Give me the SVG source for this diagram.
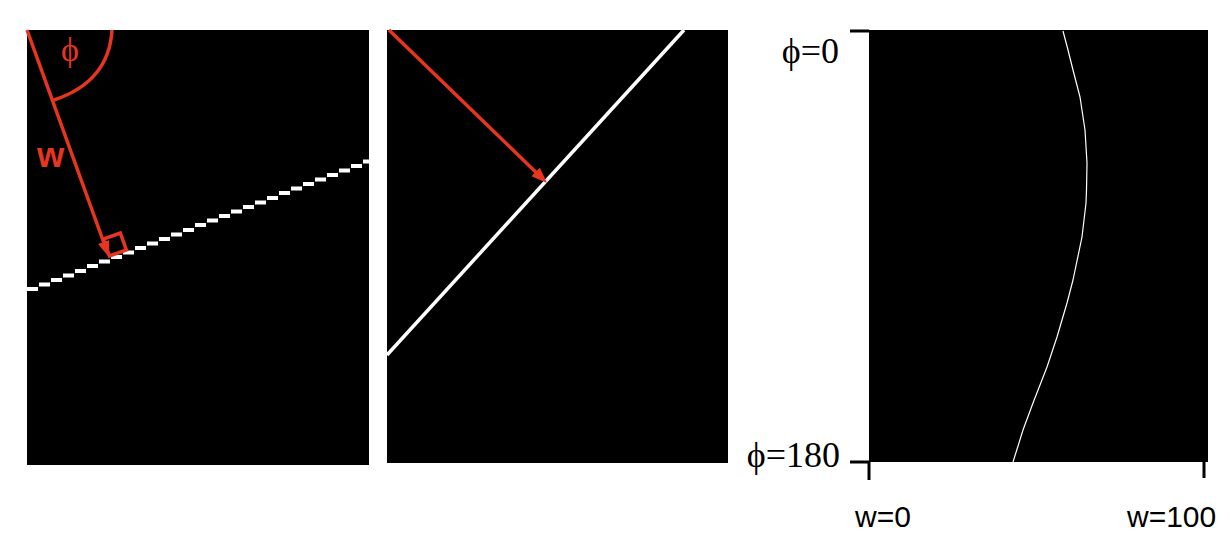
<svg xmlns="http://www.w3.org/2000/svg" width="1230" height="544" viewBox="0 0 1230 544">
<style>
.panel{fill:#000}
.red{stroke:#e8351f;fill:none;stroke-width:3.5}
.white{stroke:#fff;fill:none}
.tick{stroke:#000;stroke-width:3;fill:none}
.serif{font-family:"Liberation Serif","Times New Roman",serif;fill:#000}
.sans{font-family:"Liberation Sans",Arial,sans-serif;fill:#000}
</style>
<defs>
<marker id="ah" viewBox="0 0 16 12" refX="8" refY="6" markerWidth="16" markerHeight="12" markerUnits="userSpaceOnUse" orient="auto">
<path d="M0,0 L16,6 L0,12 Z" fill="#e8351f"/>
</marker>
</defs>
<rect width="1230" height="544" fill="#fff"/>

<g id="panel1">
<rect class="panel" x="27" y="30" width="342" height="435"/>
<path class="white" stroke-width="4" d="M27 289h11M39 284.5h11M51 280h11M63 275.5h11M75 271h11M87 266h11M99 261.5h11M111 257h11M123 252.5h11M135 248h11M147 243.5h11M159 239h11M171 234.5h11M183 230h11M195 225h11M207 220.5h11M219 216h11M231 211.5h11M243 207h11M255 202.5h11M267 198h11M279 193h11M291 188.5h11M303 184h11M315 179.5h11M327 175h11M339 170.5h11M351 166h11M363 161.5h6"/>
<line class="red" x1="27" y1="30" x2="106.3" y2="249.5" marker-end="url(#ah)"/>
<path class="red" stroke-width="3" d="M54,100 C90,88 110,65 112,30"/>
<path class="red" stroke-width="2" d="M109.5,256 L103.4,239.1 L120.3,233 L126.4,249.9 Z"/>
<text x="70" y="61" text-anchor="middle" font-family="Liberation Serif, serif" font-size="34" fill="#e8351f">ϕ</text>
<text x="37" y="167" font-family="Liberation Sans, Arial, sans-serif" font-size="35" font-weight="bold" fill="#e8351f">w</text>
</g>

<g id="panel2">
<rect class="panel" x="387" y="30" width="341" height="433"/>
<line class="white" stroke-width="3.5" x1="387" y1="355" x2="684" y2="30"/>
<line class="red" x1="389" y1="30" x2="541.3" y2="177.4" marker-end="url(#ah)"/>
</g>

<g id="panel3">
<rect class="panel" x="869" y="30" width="339" height="432"/>
<path class="white" stroke="#d0d0d0" stroke-width="1.2" stroke-linejoin="round" d="M1063,31 L1068,50 L1073,70 L1080,97 L1085,130 L1087,163 L1086.5,190 L1086,203 L1082,237 L1073,280 L1067,303 L1057,337 L1047,367 L1033,403 L1023,430 L1013,462"/>
<path class="tick" d="M850,31 H869 M850,462 H869 M869,461 V480 M1204,461 V478"/>
<text class="serif" x="839" y="63" text-anchor="end" font-size="36">ϕ=0</text>
<text class="serif" x="840" y="467" text-anchor="end" font-size="36">ϕ=180</text>
<text class="sans" x="855" y="527" font-size="30">w=0</text>
<text class="sans" x="1127" y="527" font-size="30">w=100</text>
</g>
</svg>
